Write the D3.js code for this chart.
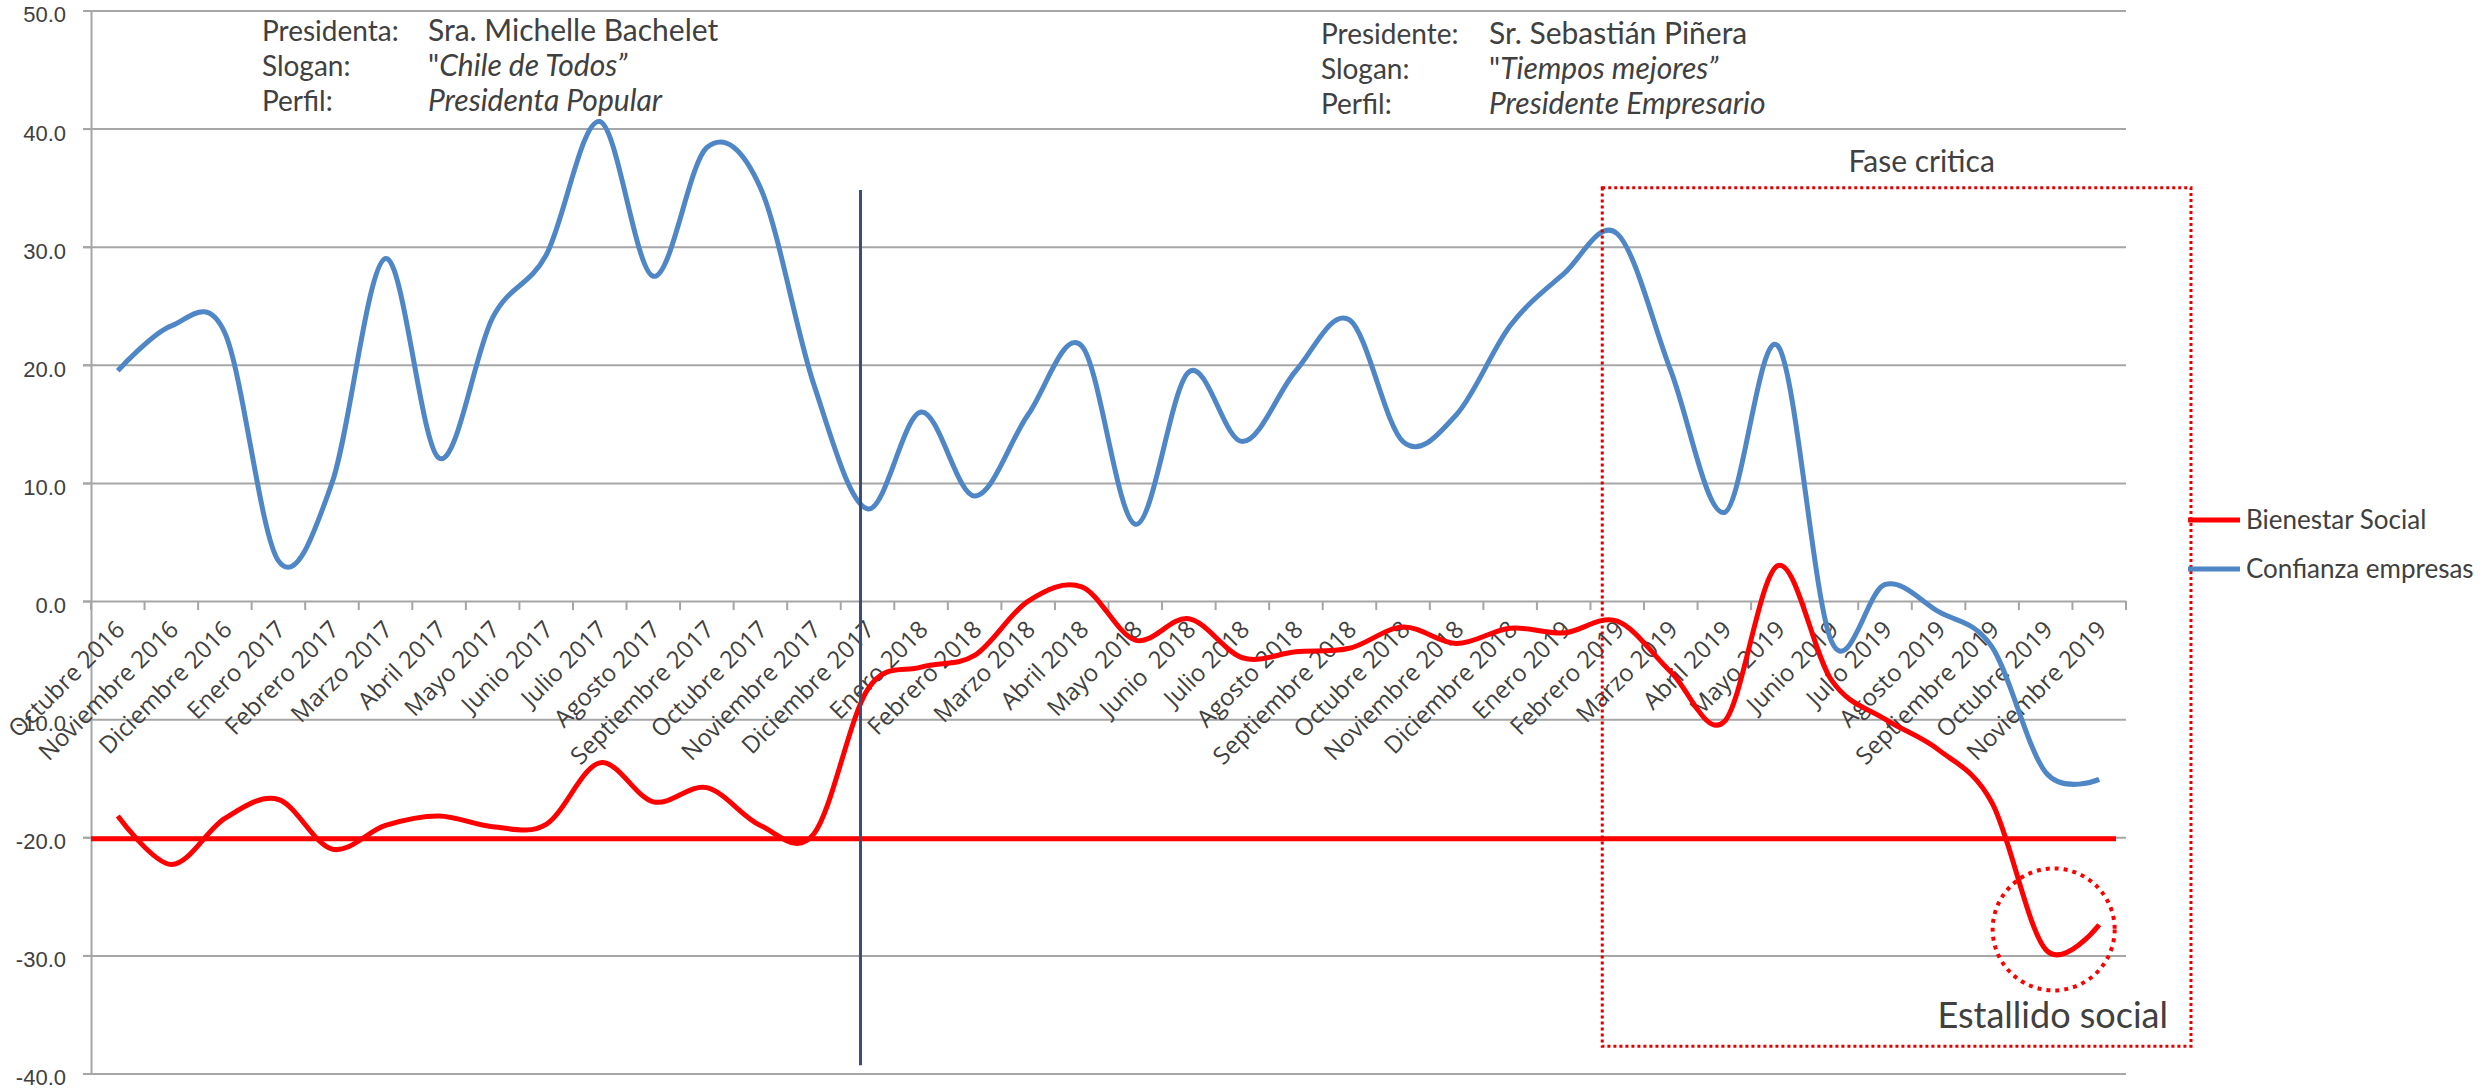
<!DOCTYPE html>
<html>
<head>
<meta charset="utf-8">
<script src="https://cdn.jsdelivr.net/npm/d3@7"></script>
<style>
  body { margin: 0; background: #fff; }
  svg { display: block; font-family: Lato, 'Open Sans', sans-serif; }
  .grid line { stroke: #a6a6a6; stroke-width: 2; }
  .grid path { display: none; }
  .y.axis path, .y.axis line, .x.axis path, .xticks line { stroke: #a6a6a6; stroke-width: 2; }
  .y.axis text { font-size: 22px; fill: #404040; }
  .x.axis text { font-family: 'Open Sans', sans-serif; font-size: 24px; fill: #404040; white-space: pre; }
  .note { font-size: 28px; fill: #404040; }
  .note.value { font-size: 30px; }
  .legend text { font-size: 26px; fill: #404040; }
</style>
</head>
<body>
<svg width="2486" height="1092"></svg>
<script>
// **** Data ****
var months = ['Octubre 2016', 'Noviembre 2016', 'Diciembre 2016', 'Enero 2017', 'Febrero 2017',
  'Marzo 2017', 'Abril 2017', 'Mayo 2017', 'Junio 2017', 'Julio 2017', 'Agosto 2017',
  'Septiembre 2017', 'Octubre 2017', 'Noviembre 2017', 'Diciembre 2017', 'Enero 2018',
  'Febrero 2018', 'Marzo 2018', 'Abril 2018', 'Mayo 2018', 'Junio  2018', 'Julio 2018',
  'Agosto 2018', 'Septiembre 2018', 'Octubre 2018', 'Noviembre 2018', 'Diciembre 2018',
  'Enero 2019', 'Febrero 2019', 'Marzo 2019', 'Abril 2019', 'Mayo 2019', 'Junio 2019',
  'Julio 2019', 'Agosto 2019', 'Septiembre 2019', 'Octubre 2019', 'Noviembre 2019'];

var bienestar = [-18.2, -22.3, -18.4, -16.8, -21.0, -19.0, -18.2, -19.1, -18.9, -13.7,
  -17.0, -15.8, -19.0, -19.7, -7.5, -5.6, -4.6, 0.0, 1.2, -3.3, -1.5, -4.8, -4.3, -4.0,
  -2.2, -3.6, -2.3, -2.7, -1.7, -6.0, -10.2, 3.0, -6.7, -10.0, -12.6, -17.1, -29.5, -27.4];

var confianza = [19.5, 23.3, 22.7, 3.4, 10.0, 29.0, 12.1, 24.0, 29.3, 40.6, 27.5, 38.4,
  35.0, 18.3, 7.8, 16.0, 8.9, 15.8, 21.6, 6.5, 19.4, 13.5, 19.5, 23.8, 13.5, 15.8, 23.3,
  27.7, 31.1, 19.5, 7.5, 21.6, -3.4, 1.4, -0.9, -3.9, -14.5, -15.1];

var yTicks = [50, 40, 30, 20, 10, 0, -10, -20, -30, -40];
var seriesNames = ['Bienestar Social', 'Confianza empresas'];
var seriesColors = ['#ff0000', '#4f86c6'];

var bacheletLabels = ['Presidenta:', 'Slogan:', 'Perfil:'];
var bacheletValues = ['Sra. Michelle Bachelet', 'Chile de Todos', 'Presidenta Popular'];
var pineraLabels = ['Presidente:', 'Slogan:', 'Perfil:'];
var pineraValues = ['Sr. Sebastián Piñera', 'Tiempos mejores', 'Presidente Empresario'];

var threshold = -20;
var cutMonth = 'Diciembre 2017';
var phaseStart = 'Febrero 2019';
var outbreakMonth = 'Octubre 2019';

// **** Scales ****
var plotLeft = 91, plotRight = 2126;

var xScale = d3.scalePoint()
    .domain(months).range([plotLeft, plotRight]).padding(0.5);
var step = xScale.step();

var yScale = d3.scaleLinear()
    .domain([-40, 50]).range([1073.5, 10.5]);

var svg = d3.select('svg');

// **** Gridlines and axes ****
svg.append('g').attr('class', 'grid')
    .attr('transform', 'translate(' + (plotLeft - 8) + ',0)')
    .call(d3.axisRight(yScale).tickValues(yTicks).tickSize(plotRight - plotLeft + 8).tickFormat(''));

svg.append('g').attr('class', 'y axis')
    .attr('transform', 'translate(' + plotLeft + ',0)')
    .call(d3.axisLeft(yScale).tickValues(yTicks).tickSize(8).tickSizeOuter(0).tickPadding(17)
        .tickFormat(function(d) { return d.toFixed(1); }))
    .selectAll('text').attr('dy', '0.52em');

var xAxis = svg.append('g').attr('class', 'x axis')
    .attr('transform', 'translate(0,' + yScale(0) + ')')
    .call(d3.axisBottom(xScale).tickSize(0).tickSizeOuter(0));
xAxis.select('.domain').remove();
xAxis.selectAll('text')
    .attr('x', 0).attr('y', 0).attr('dy', 0)
    .attr('text-anchor', 'end')
    .attr('transform', 'translate(8,30) rotate(-45)');

// tick marks sit on the category boundaries
var edges = months.map(function(m) { return xScale(m) - step / 2; });
edges.push(plotRight);
svg.append('g').attr('class', 'xticks')
    .attr('transform', 'translate(0,' + yScale(0) + ')')
    .selectAll('line').data(edges).enter().append('line')
    .attr('x1', function(d) { return d; }).attr('x2', function(d) { return d; })
    .attr('y1', 0).attr('y2', 9);

// **** Series ****
var line = d3.line()
    .x(function(d, i) { return xScale(months[i]); })
    .y(function(d) { return yScale(d); })
    .curve(d3.curveCardinal.tension(0));

[bienestar, confianza].forEach(function(values, k) {
    svg.append('path')
        .datum(values)
        .attr('d', line)
        .attr('fill', 'none')
        .attr('stroke', seriesColors[k])
        .attr('stroke-width', 5)
        .attr('stroke-linejoin', 'round');
});

// **** Shapes drawn over the chart ****
svg.append('line')
    .attr('x1', plotLeft).attr('x2', plotRight - 10)
    .attr('y1', yScale(threshold) + 1.5).attr('y2', yScale(threshold) + 1.5)
    .attr('stroke', '#ff0000').attr('stroke-width', 5);

svg.append('line')
    .attr('x1', xScale(cutMonth) - 7).attr('x2', xScale(cutMonth) - 7)
    .attr('y1', yScale(34.8)).attr('y2', yScale(-39.3))
    .attr('stroke', '#3b4e78').attr('stroke-width', 3);

var boxLeft = xScale(phaseStart) - 15, boxRight = plotRight + 65;
svg.append('rect')
    .attr('x', boxLeft).attr('y', yScale(35))
    .attr('width', boxRight - boxLeft).attr('height', yScale(-37.7) - yScale(35))
    .attr('fill', 'none').attr('stroke', '#e00000')
    .attr('stroke-width', 3).attr('stroke-dasharray', '3 3');

svg.append('circle')
    .attr('cx', xScale(outbreakMonth) + 8).attr('cy', yScale(-27.8)).attr('r', 61)
    .attr('fill', 'none').attr('stroke', '#ff0000')
    .attr('stroke-width', 4).attr('stroke-dasharray', '4 5');

svg.append('text').attr('class', 'note')
    .attr('x', (boxLeft + boxRight) / 2 + 25).attr('y', 172)
    .attr('text-anchor', 'middle').style('font-size', '30px')
    .text('Fase critica');

svg.append('text').attr('class', 'note')
    .attr('x', boxRight - 23).attr('y', 1028)
    .attr('text-anchor', 'end').style('font-size', '36px')
    .text('Estallido social');

// **** Presidents text ****
function presidentBlock(labels, values, x0, x1, y0) {
    labels.forEach(function(lab, i) {
        var y = y0 + i * 35;
        svg.append('text').attr('class', 'note').attr('x', x0).attr('y', y).text(lab);
        var t = svg.append('text').attr('class', 'note value').attr('x', x1).attr('y', y);
        if (i == 0) {
            t.text(values[i]);
        } else if (i == 1) {
            t.append('tspan').text('"');
            t.append('tspan').style('font-style', 'italic').text(values[i] + '\u201D');
        } else {
            t.style('font-style', 'italic').text(values[i]);
        }
    });
}
presidentBlock(bacheletLabels, bacheletValues, 262, 428, 41);
presidentBlock(pineraLabels, pineraValues, 1321, 1489, 44);

// **** Legend ****
var legend = svg.append('g').attr('class', 'legend')
    .selectAll('g').data(seriesNames).enter().append('g')
    .attr('transform', function(d, i) { return 'translate(2188,' + (520 + i * 49) + ')'; });
legend.append('line')
    .attr('x1', 0).attr('x2', 52).attr('y1', 0).attr('y2', 0)
    .attr('stroke', function(d, i) { return seriesColors[i]; })
    .attr('stroke-width', 5);
legend.append('text')
    .attr('x', 58).attr('y', 0).attr('dy', '0.35em')
    .text(function(d) { return d; });
</script>
</body>
</html>
